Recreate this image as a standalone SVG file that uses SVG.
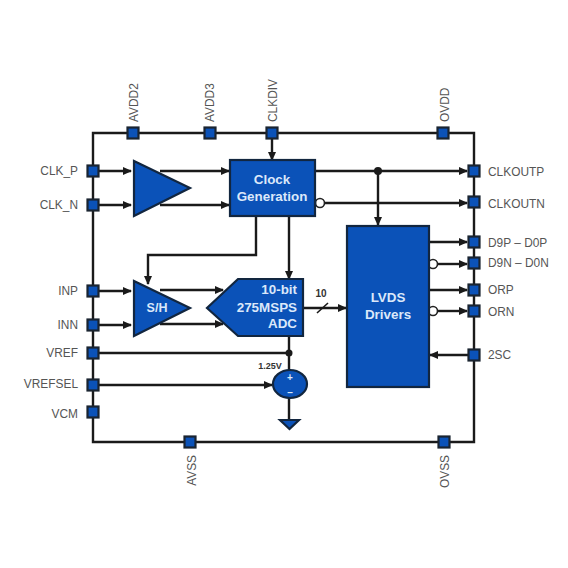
<svg xmlns="http://www.w3.org/2000/svg" width="568" height="568" viewBox="0 0 568 568">
<style>
text{font-family:"Liberation Sans",Arial,sans-serif}
.l{font-size:11.9px;fill:#555}
.e{text-anchor:end}
.w{font-size:13.4px;font-weight:bold;fill:#dbe8fa;text-anchor:middle}
.r{text-anchor:end}
.c{fill:none;stroke:#1a1a1a;stroke-width:2.4}
.b{fill:#0b52b8;stroke:#12263f;stroke-width:2.2}
.p{fill:#0b52b8;stroke:#1a2430;stroke-width:2.2}
.o{fill:#fff;stroke:#222;stroke-width:1.6}
</style>
<defs>
<marker id="a" markerUnits="userSpaceOnUse" markerWidth="9" markerHeight="8" refX="8" refY="4" orient="auto"><path d="M0 0L9 4L0 8z" fill="#1a1a1a"/></marker>
<rect id="pin" class="p" x="-5.500" y="-5.500" width="11" height="11"/>
</defs>
<rect width="568" height="568" fill="#fff"/>
<g id="connectors">
<path class="c" d="M93 133H474V442H93z"/>
<path class="c" marker-end="url(#a)" d="M272 133V160"/>
<path class="c" marker-end="url(#a)" d="M93 171H131"/>
<path class="c" marker-end="url(#a)" d="M93 205H131"/>
<path class="c" marker-end="url(#a)" d="M160 171H229"/>
<path class="c" marker-end="url(#a)" d="M160 205H229"/>
<path class="c" marker-end="url(#a)" d="M256 216V255H148V284"/>
<path class="c" marker-end="url(#a)" d="M289 216V279"/>
<path class="c" marker-end="url(#a)" d="M93 291H131"/>
<path class="c" marker-end="url(#a)" d="M93 325H131"/>
<path class="c" marker-end="url(#a)" d="M160 290H223"/>
<path class="c" marker-end="url(#a)" d="M160 324H223"/>
<path class="c" d="M93 353H289M289 336V371M289 398V420"/>
<path class="c" marker-end="url(#a)" d="M93 385H272"/>
<path class="c" marker-end="url(#a)" d="M303 308H346"/>
<path fill="none" stroke="#1a1a1a" stroke-width="1.6" d="M317 313L328 303"/>
<path class="c" marker-end="url(#a)" d="M315 171H467"/>
<path class="c" marker-end="url(#a)" d="M325 203H467"/>
<path class="c" marker-end="url(#a)" d="M378 171V225"/>
<path class="c" marker-end="url(#a)" d="M429 242H467"/>
<path class="c" marker-end="url(#a)" d="M438 264H467"/>
<path class="c" marker-end="url(#a)" d="M429 290H467"/>
<path class="c" marker-end="url(#a)" d="M438 311H467"/>
<path class="c" marker-end="url(#a)" d="M474 355H430"/>
<circle cx="378" cy="171" r="4" fill="#1a1a1a"/>
<circle cx="289" cy="353" r="3.500" fill="#1a1a1a"/>
<circle class="o" cx="320" cy="203" r="4.500"/>
<circle class="o" cx="433" cy="264" r="4.500"/>
<circle class="o" cx="433" cy="311" r="4.500"/>
</g>
<g id="amp"><path class="b" d="M134 161L190 188L134 216z"/></g>
<g id="clockgen"><rect class="b" x="230" y="160" width="85" height="56"/><text class="w" x="272" y="184">Clock</text><text class="w" x="272" y="201">Generation</text></g>
<g id="sh"><path class="b" d="M134 281L190 308L134 336z"/><text class="w" x="157" y="312" style="font-size:12.500px">S/H</text></g>
<g id="adc"><path class="b" d="M303 279V336H238L207 308L238 279z"/><text class="w r" x="297" y="294" style="text-anchor:end">10-bit</text><text class="w r" x="297" y="312" style="text-anchor:end">275MSPS</text><text class="w r" x="297" y="328" style="text-anchor:end">ADC</text></g>
<g id="lvds"><rect class="b" x="347" y="226" width="82" height="161"/><text class="w" x="388" y="302">LVDS</text><text class="w" x="388" y="319">Drivers</text></g>
<g id="source"><ellipse class="b" cx="290" cy="384" rx="17" ry="14"/><text x="290" y="381" text-anchor="middle" font-size="10" font-weight="bold" fill="#dbe8fa">+</text><text x="290" y="396" text-anchor="middle" font-size="10" font-weight="bold" fill="#dbe8fa">–</text><text x="270" y="369" text-anchor="middle" font-size="9" font-weight="bold" fill="#333">1.25V</text></g>
<g id="ground"><path class="b" d="M280 420H299L289.500 429z"/></g>
<text x="321" y="297" text-anchor="middle" font-size="10" font-weight="bold" fill="#333">10</text>
<g id="pin-avdd2"><use href="#pin" x="133" y="133"/><text class="l" transform="translate(138 122) rotate(-90)">AVDD2</text></g>
<g id="pin-avdd3"><use href="#pin" x="210" y="133"/><text class="l" transform="translate(214 122) rotate(-90)">AVDD3</text></g>
<g id="pin-clkdiv"><use href="#pin" x="272" y="133"/><text class="l" transform="translate(277 122) rotate(-90)">CLKDIV</text></g>
<g id="pin-ovdd"><use href="#pin" x="443" y="133"/><text class="l" transform="translate(449 122) rotate(-90)">OVDD</text></g>
<g id="pin-clkp"><use href="#pin" x="93" y="171"/><text class="l e" x="78" y="175">CLK_P</text></g>
<g id="pin-clkn"><use href="#pin" x="93" y="205"/><text class="l e" x="78" y="209">CLK_N</text></g>
<g id="pin-inp"><use href="#pin" x="93" y="291"/><text class="l e" x="78" y="295">INP</text></g>
<g id="pin-inn"><use href="#pin" x="93" y="325"/><text class="l e" x="78" y="329">INN</text></g>
<g id="pin-vref"><use href="#pin" x="93" y="353"/><text class="l e" x="78" y="357">VREF</text></g>
<g id="pin-vrefsel"><use href="#pin" x="93" y="385"/><text class="l e" x="78" y="388">VREFSEL</text></g>
<g id="pin-vcm"><use href="#pin" x="93" y="412"/><text class="l e" x="78" y="418">VCM</text></g>
<g id="pin-avss"><use href="#pin" x="190" y="442"/><text class="l" transform="translate(196 455) rotate(-90)" style="text-anchor:end">AVSS</text></g>
<g id="pin-ovss"><use href="#pin" x="444" y="442"/><text class="l" transform="translate(449 455) rotate(-90)" style="text-anchor:end">OVSS</text></g>
<g id="pin-clkoutp"><use href="#pin" x="474" y="171"/><text class="l" x="488" y="176">CLKOUTP</text></g>
<g id="pin-clkoutn"><use href="#pin" x="474" y="202"/><text class="l" x="488" y="208">CLKOUTN</text></g>
<g id="pin-d9p"><use href="#pin" x="474" y="242"/><text class="l" x="488" y="247">D9P – D0P</text></g>
<g id="pin-d9n"><use href="#pin" x="474" y="263"/><text class="l" x="488" y="267">D9N – D0N</text></g>
<g id="pin-orp"><use href="#pin" x="474" y="290"/><text class="l" x="488" y="294">ORP</text></g>
<g id="pin-orn"><use href="#pin" x="474" y="311"/><text class="l" x="488" y="316">ORN</text></g>
<g id="pin-2sc"><use href="#pin" x="474" y="355"/><text class="l" x="488" y="359">2SC</text></g>
</svg>
